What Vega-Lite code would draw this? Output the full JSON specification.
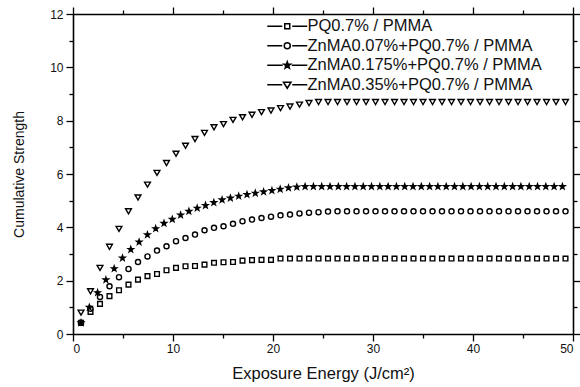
{
  "$schema": "https://vega.github.io/schema/vega-lite/v6.json",
  "width": 500,
  "height": 320,
  "autosize": {"type": "none"},
  "padding": {"left": 73, "top": 14, "right": 7, "bottom": 53},
  "background": "white",
  "config": {
    "view": {"stroke": null},
    "font": "Liberation Sans",
    "axis": {
      "domainColor": "black", "domainWidth": 1.6, "tickColor": "black", "tickWidth": 1.3,
      "labelColor": "#111", "labelFont": "Liberation Sans", "labelFontSize": 12,
      "titleColor": "#111", "titleFont": "Liberation Sans", "titleFontWeight": "normal",
      "grid": false
    },
    "legend": {
      "labelFont": "Liberation Sans", "labelFontSize": 16.5, "labelColor": "#111", "labelLimit": 400
    }
  },
  "data": {"values": [
    {"sample":"PQ0.7% / PMMA","energy":0.8,"strength":0.42},
    {"sample":"PQ0.7% / PMMA","energy":1.75,"strength":0.83},
    {"sample":"PQ0.7% / PMMA","energy":2.7,"strength":1.13},
    {"sample":"PQ0.7% / PMMA","energy":3.65,"strength":1.42},
    {"sample":"PQ0.7% / PMMA","energy":4.6,"strength":1.64},
    {"sample":"PQ0.7% / PMMA","energy":5.55,"strength":1.85},
    {"sample":"PQ0.7% / PMMA","energy":6.5,"strength":2.04},
    {"sample":"PQ0.7% / PMMA","energy":7.45,"strength":2.17},
    {"sample":"PQ0.7% / PMMA","energy":8.4,"strength":2.25},
    {"sample":"PQ0.7% / PMMA","energy":9.35,"strength":2.39},
    {"sample":"PQ0.7% / PMMA","energy":10.3,"strength":2.48},
    {"sample":"PQ0.7% / PMMA","energy":11.25,"strength":2.54},
    {"sample":"PQ0.7% / PMMA","energy":12.2,"strength":2.55},
    {"sample":"PQ0.7% / PMMA","energy":13.15,"strength":2.6},
    {"sample":"PQ0.7% / PMMA","energy":14.1,"strength":2.67},
    {"sample":"PQ0.7% / PMMA","energy":15.05,"strength":2.69},
    {"sample":"PQ0.7% / PMMA","energy":16.0,"strength":2.7},
    {"sample":"PQ0.7% / PMMA","energy":16.95,"strength":2.75},
    {"sample":"PQ0.7% / PMMA","energy":17.9,"strength":2.77},
    {"sample":"PQ0.7% / PMMA","energy":18.85,"strength":2.78},
    {"sample":"PQ0.7% / PMMA","energy":19.8,"strength":2.78},
    {"sample":"PQ0.7% / PMMA","energy":20.75,"strength":2.83},
    {"sample":"PQ0.7% / PMMA","energy":21.7,"strength":2.83},
    {"sample":"PQ0.7% / PMMA","energy":22.65,"strength":2.83},
    {"sample":"PQ0.7% / PMMA","energy":23.6,"strength":2.83},
    {"sample":"PQ0.7% / PMMA","energy":24.55,"strength":2.83},
    {"sample":"PQ0.7% / PMMA","energy":25.5,"strength":2.83},
    {"sample":"PQ0.7% / PMMA","energy":26.45,"strength":2.83},
    {"sample":"PQ0.7% / PMMA","energy":27.4,"strength":2.83},
    {"sample":"PQ0.7% / PMMA","energy":28.35,"strength":2.83},
    {"sample":"PQ0.7% / PMMA","energy":29.3,"strength":2.83},
    {"sample":"PQ0.7% / PMMA","energy":30.25,"strength":2.83},
    {"sample":"PQ0.7% / PMMA","energy":31.2,"strength":2.83},
    {"sample":"PQ0.7% / PMMA","energy":32.15,"strength":2.83},
    {"sample":"PQ0.7% / PMMA","energy":33.1,"strength":2.83},
    {"sample":"PQ0.7% / PMMA","energy":34.05,"strength":2.83},
    {"sample":"PQ0.7% / PMMA","energy":35.0,"strength":2.83},
    {"sample":"PQ0.7% / PMMA","energy":35.95,"strength":2.83},
    {"sample":"PQ0.7% / PMMA","energy":36.9,"strength":2.83},
    {"sample":"PQ0.7% / PMMA","energy":37.85,"strength":2.83},
    {"sample":"PQ0.7% / PMMA","energy":38.8,"strength":2.83},
    {"sample":"PQ0.7% / PMMA","energy":39.75,"strength":2.83},
    {"sample":"PQ0.7% / PMMA","energy":40.7,"strength":2.83},
    {"sample":"PQ0.7% / PMMA","energy":41.65,"strength":2.83},
    {"sample":"PQ0.7% / PMMA","energy":42.6,"strength":2.83},
    {"sample":"PQ0.7% / PMMA","energy":43.55,"strength":2.83},
    {"sample":"PQ0.7% / PMMA","energy":44.5,"strength":2.83},
    {"sample":"PQ0.7% / PMMA","energy":45.45,"strength":2.83},
    {"sample":"PQ0.7% / PMMA","energy":46.4,"strength":2.83},
    {"sample":"PQ0.7% / PMMA","energy":47.35,"strength":2.83},
    {"sample":"PQ0.7% / PMMA","energy":48.3,"strength":2.83},
    {"sample":"PQ0.7% / PMMA","energy":49.25,"strength":2.83},

    {"sample":"ZnMA0.07%+PQ0.7% / PMMA","energy":0.8,"strength":0.42},
    {"sample":"ZnMA0.07%+PQ0.7% / PMMA","energy":1.75,"strength":0.95},
    {"sample":"ZnMA0.07%+PQ0.7% / PMMA","energy":2.7,"strength":1.39},
    {"sample":"ZnMA0.07%+PQ0.7% / PMMA","energy":3.65,"strength":1.79},
    {"sample":"ZnMA0.07%+PQ0.7% / PMMA","energy":4.6,"strength":2.13},
    {"sample":"ZnMA0.07%+PQ0.7% / PMMA","energy":5.55,"strength":2.44},
    {"sample":"ZnMA0.07%+PQ0.7% / PMMA","energy":6.5,"strength":2.7},
    {"sample":"ZnMA0.07%+PQ0.7% / PMMA","energy":7.45,"strength":2.91},
    {"sample":"ZnMA0.07%+PQ0.7% / PMMA","energy":8.4,"strength":3.13},
    {"sample":"ZnMA0.07%+PQ0.7% / PMMA","energy":9.35,"strength":3.29},
    {"sample":"ZnMA0.07%+PQ0.7% / PMMA","energy":10.3,"strength":3.48},
    {"sample":"ZnMA0.07%+PQ0.7% / PMMA","energy":11.25,"strength":3.6},
    {"sample":"ZnMA0.07%+PQ0.7% / PMMA","energy":12.2,"strength":3.73},
    {"sample":"ZnMA0.07%+PQ0.7% / PMMA","energy":13.15,"strength":3.89},
    {"sample":"ZnMA0.07%+PQ0.7% / PMMA","energy":14.1,"strength":3.98},
    {"sample":"ZnMA0.07%+PQ0.7% / PMMA","energy":15.05,"strength":4.04},
    {"sample":"ZnMA0.07%+PQ0.7% / PMMA","energy":16.0,"strength":4.13},
    {"sample":"ZnMA0.07%+PQ0.7% / PMMA","energy":16.95,"strength":4.23},
    {"sample":"ZnMA0.07%+PQ0.7% / PMMA","energy":17.9,"strength":4.29},
    {"sample":"ZnMA0.07%+PQ0.7% / PMMA","energy":18.85,"strength":4.35},
    {"sample":"ZnMA0.07%+PQ0.7% / PMMA","energy":19.8,"strength":4.4},
    {"sample":"ZnMA0.07%+PQ0.7% / PMMA","energy":20.75,"strength":4.45},
    {"sample":"ZnMA0.07%+PQ0.7% / PMMA","energy":21.7,"strength":4.48},
    {"sample":"ZnMA0.07%+PQ0.7% / PMMA","energy":22.65,"strength":4.52},
    {"sample":"ZnMA0.07%+PQ0.7% / PMMA","energy":23.6,"strength":4.55},
    {"sample":"ZnMA0.07%+PQ0.7% / PMMA","energy":24.55,"strength":4.57},
    {"sample":"ZnMA0.07%+PQ0.7% / PMMA","energy":25.5,"strength":4.59},
    {"sample":"ZnMA0.07%+PQ0.7% / PMMA","energy":26.45,"strength":4.6},
    {"sample":"ZnMA0.07%+PQ0.7% / PMMA","energy":27.4,"strength":4.6},
    {"sample":"ZnMA0.07%+PQ0.7% / PMMA","energy":28.35,"strength":4.6},
    {"sample":"ZnMA0.07%+PQ0.7% / PMMA","energy":29.3,"strength":4.6},
    {"sample":"ZnMA0.07%+PQ0.7% / PMMA","energy":30.25,"strength":4.6},
    {"sample":"ZnMA0.07%+PQ0.7% / PMMA","energy":31.2,"strength":4.6},
    {"sample":"ZnMA0.07%+PQ0.7% / PMMA","energy":32.15,"strength":4.6},
    {"sample":"ZnMA0.07%+PQ0.7% / PMMA","energy":33.1,"strength":4.6},
    {"sample":"ZnMA0.07%+PQ0.7% / PMMA","energy":34.05,"strength":4.6},
    {"sample":"ZnMA0.07%+PQ0.7% / PMMA","energy":35.0,"strength":4.6},
    {"sample":"ZnMA0.07%+PQ0.7% / PMMA","energy":35.95,"strength":4.6},
    {"sample":"ZnMA0.07%+PQ0.7% / PMMA","energy":36.9,"strength":4.6},
    {"sample":"ZnMA0.07%+PQ0.7% / PMMA","energy":37.85,"strength":4.6},
    {"sample":"ZnMA0.07%+PQ0.7% / PMMA","energy":38.8,"strength":4.6},
    {"sample":"ZnMA0.07%+PQ0.7% / PMMA","energy":39.75,"strength":4.6},
    {"sample":"ZnMA0.07%+PQ0.7% / PMMA","energy":40.7,"strength":4.6},
    {"sample":"ZnMA0.07%+PQ0.7% / PMMA","energy":41.65,"strength":4.6},
    {"sample":"ZnMA0.07%+PQ0.7% / PMMA","energy":42.6,"strength":4.6},
    {"sample":"ZnMA0.07%+PQ0.7% / PMMA","energy":43.55,"strength":4.6},
    {"sample":"ZnMA0.07%+PQ0.7% / PMMA","energy":44.5,"strength":4.6},
    {"sample":"ZnMA0.07%+PQ0.7% / PMMA","energy":45.45,"strength":4.6},
    {"sample":"ZnMA0.07%+PQ0.7% / PMMA","energy":46.4,"strength":4.6},
    {"sample":"ZnMA0.07%+PQ0.7% / PMMA","energy":47.35,"strength":4.6},
    {"sample":"ZnMA0.07%+PQ0.7% / PMMA","energy":48.3,"strength":4.6},
    {"sample":"ZnMA0.07%+PQ0.7% / PMMA","energy":49.25,"strength":4.6},

    {"sample":"ZnMA0.175%+PQ0.7% / PMMA","energy":0.8,"strength":0.42},
    {"sample":"ZnMA0.175%+PQ0.7% / PMMA","energy":1.63,"strength":1.0},
    {"sample":"ZnMA0.175%+PQ0.7% / PMMA","energy":2.46,"strength":1.55},
    {"sample":"ZnMA0.175%+PQ0.7% / PMMA","energy":3.29,"strength":2.03},
    {"sample":"ZnMA0.175%+PQ0.7% / PMMA","energy":4.12,"strength":2.45},
    {"sample":"ZnMA0.175%+PQ0.7% / PMMA","energy":4.95,"strength":2.85},
    {"sample":"ZnMA0.175%+PQ0.7% / PMMA","energy":5.78,"strength":3.17},
    {"sample":"ZnMA0.175%+PQ0.7% / PMMA","energy":6.61,"strength":3.45},
    {"sample":"ZnMA0.175%+PQ0.7% / PMMA","energy":7.44,"strength":3.72},
    {"sample":"ZnMA0.175%+PQ0.7% / PMMA","energy":8.27,"strength":3.95},
    {"sample":"ZnMA0.175%+PQ0.7% / PMMA","energy":9.1,"strength":4.15},
    {"sample":"ZnMA0.175%+PQ0.7% / PMMA","energy":9.93,"strength":4.3},
    {"sample":"ZnMA0.175%+PQ0.7% / PMMA","energy":10.76,"strength":4.46},
    {"sample":"ZnMA0.175%+PQ0.7% / PMMA","energy":11.59,"strength":4.6},
    {"sample":"ZnMA0.175%+PQ0.7% / PMMA","energy":12.42,"strength":4.72},
    {"sample":"ZnMA0.175%+PQ0.7% / PMMA","energy":13.25,"strength":4.82},
    {"sample":"ZnMA0.175%+PQ0.7% / PMMA","energy":14.08,"strength":4.93},
    {"sample":"ZnMA0.175%+PQ0.7% / PMMA","energy":14.91,"strength":5.03},
    {"sample":"ZnMA0.175%+PQ0.7% / PMMA","energy":15.74,"strength":5.1},
    {"sample":"ZnMA0.175%+PQ0.7% / PMMA","energy":16.57,"strength":5.17},
    {"sample":"ZnMA0.175%+PQ0.7% / PMMA","energy":17.4,"strength":5.23},
    {"sample":"ZnMA0.175%+PQ0.7% / PMMA","energy":18.23,"strength":5.28},
    {"sample":"ZnMA0.175%+PQ0.7% / PMMA","energy":19.06,"strength":5.33},
    {"sample":"ZnMA0.175%+PQ0.7% / PMMA","energy":19.89,"strength":5.38},
    {"sample":"ZnMA0.175%+PQ0.7% / PMMA","energy":20.72,"strength":5.43},
    {"sample":"ZnMA0.175%+PQ0.7% / PMMA","energy":21.55,"strength":5.48},
    {"sample":"ZnMA0.175%+PQ0.7% / PMMA","energy":22.38,"strength":5.51},
    {"sample":"ZnMA0.175%+PQ0.7% / PMMA","energy":23.21,"strength":5.53},
    {"sample":"ZnMA0.175%+PQ0.7% / PMMA","energy":24.04,"strength":5.53},
    {"sample":"ZnMA0.175%+PQ0.7% / PMMA","energy":24.87,"strength":5.53},
    {"sample":"ZnMA0.175%+PQ0.7% / PMMA","energy":25.7,"strength":5.53},
    {"sample":"ZnMA0.175%+PQ0.7% / PMMA","energy":26.53,"strength":5.53},
    {"sample":"ZnMA0.175%+PQ0.7% / PMMA","energy":27.36,"strength":5.53},
    {"sample":"ZnMA0.175%+PQ0.7% / PMMA","energy":28.19,"strength":5.53},
    {"sample":"ZnMA0.175%+PQ0.7% / PMMA","energy":29.02,"strength":5.53},
    {"sample":"ZnMA0.175%+PQ0.7% / PMMA","energy":29.85,"strength":5.53},
    {"sample":"ZnMA0.175%+PQ0.7% / PMMA","energy":30.68,"strength":5.53},
    {"sample":"ZnMA0.175%+PQ0.7% / PMMA","energy":31.51,"strength":5.53},
    {"sample":"ZnMA0.175%+PQ0.7% / PMMA","energy":32.34,"strength":5.53},
    {"sample":"ZnMA0.175%+PQ0.7% / PMMA","energy":33.17,"strength":5.53},
    {"sample":"ZnMA0.175%+PQ0.7% / PMMA","energy":34.0,"strength":5.53},
    {"sample":"ZnMA0.175%+PQ0.7% / PMMA","energy":34.83,"strength":5.53},
    {"sample":"ZnMA0.175%+PQ0.7% / PMMA","energy":35.66,"strength":5.53},
    {"sample":"ZnMA0.175%+PQ0.7% / PMMA","energy":36.49,"strength":5.53},
    {"sample":"ZnMA0.175%+PQ0.7% / PMMA","energy":37.32,"strength":5.53},
    {"sample":"ZnMA0.175%+PQ0.7% / PMMA","energy":38.15,"strength":5.53},
    {"sample":"ZnMA0.175%+PQ0.7% / PMMA","energy":38.98,"strength":5.53},
    {"sample":"ZnMA0.175%+PQ0.7% / PMMA","energy":39.81,"strength":5.53},
    {"sample":"ZnMA0.175%+PQ0.7% / PMMA","energy":40.64,"strength":5.53},
    {"sample":"ZnMA0.175%+PQ0.7% / PMMA","energy":41.47,"strength":5.53},
    {"sample":"ZnMA0.175%+PQ0.7% / PMMA","energy":42.3,"strength":5.53},
    {"sample":"ZnMA0.175%+PQ0.7% / PMMA","energy":43.13,"strength":5.53},
    {"sample":"ZnMA0.175%+PQ0.7% / PMMA","energy":43.96,"strength":5.53},
    {"sample":"ZnMA0.175%+PQ0.7% / PMMA","energy":44.79,"strength":5.53},
    {"sample":"ZnMA0.175%+PQ0.7% / PMMA","energy":45.62,"strength":5.53},
    {"sample":"ZnMA0.175%+PQ0.7% / PMMA","energy":46.45,"strength":5.53},
    {"sample":"ZnMA0.175%+PQ0.7% / PMMA","energy":47.28,"strength":5.53},
    {"sample":"ZnMA0.175%+PQ0.7% / PMMA","energy":48.11,"strength":5.53},
    {"sample":"ZnMA0.175%+PQ0.7% / PMMA","energy":48.94,"strength":5.53},

    {"sample":"ZnMA0.35%+PQ0.7% / PMMA","energy":0.8,"strength":0.8},
    {"sample":"ZnMA0.35%+PQ0.7% / PMMA","energy":1.75,"strength":1.6},
    {"sample":"ZnMA0.35%+PQ0.7% / PMMA","energy":2.7,"strength":2.48},
    {"sample":"ZnMA0.35%+PQ0.7% / PMMA","energy":3.65,"strength":3.27},
    {"sample":"ZnMA0.35%+PQ0.7% / PMMA","energy":4.6,"strength":3.94},
    {"sample":"ZnMA0.35%+PQ0.7% / PMMA","energy":5.55,"strength":4.6},
    {"sample":"ZnMA0.35%+PQ0.7% / PMMA","energy":6.5,"strength":5.12},
    {"sample":"ZnMA0.35%+PQ0.7% / PMMA","energy":7.45,"strength":5.6},
    {"sample":"ZnMA0.35%+PQ0.7% / PMMA","energy":8.4,"strength":6.04},
    {"sample":"ZnMA0.35%+PQ0.7% / PMMA","energy":9.35,"strength":6.41},
    {"sample":"ZnMA0.35%+PQ0.7% / PMMA","energy":10.3,"strength":6.76},
    {"sample":"ZnMA0.35%+PQ0.7% / PMMA","energy":11.25,"strength":7.06},
    {"sample":"ZnMA0.35%+PQ0.7% / PMMA","energy":12.2,"strength":7.31},
    {"sample":"ZnMA0.35%+PQ0.7% / PMMA","energy":13.15,"strength":7.54},
    {"sample":"ZnMA0.35%+PQ0.7% / PMMA","energy":14.1,"strength":7.75},
    {"sample":"ZnMA0.35%+PQ0.7% / PMMA","energy":15.05,"strength":7.87},
    {"sample":"ZnMA0.35%+PQ0.7% / PMMA","energy":16.0,"strength":8.03},
    {"sample":"ZnMA0.35%+PQ0.7% / PMMA","energy":16.95,"strength":8.13},
    {"sample":"ZnMA0.35%+PQ0.7% / PMMA","energy":17.9,"strength":8.22},
    {"sample":"ZnMA0.35%+PQ0.7% / PMMA","energy":18.85,"strength":8.32},
    {"sample":"ZnMA0.35%+PQ0.7% / PMMA","energy":19.8,"strength":8.38},
    {"sample":"ZnMA0.35%+PQ0.7% / PMMA","energy":20.75,"strength":8.47},
    {"sample":"ZnMA0.35%+PQ0.7% / PMMA","energy":21.7,"strength":8.53},
    {"sample":"ZnMA0.35%+PQ0.7% / PMMA","energy":22.65,"strength":8.6},
    {"sample":"ZnMA0.35%+PQ0.7% / PMMA","energy":23.6,"strength":8.66},
    {"sample":"ZnMA0.35%+PQ0.7% / PMMA","energy":24.55,"strength":8.7},
    {"sample":"ZnMA0.35%+PQ0.7% / PMMA","energy":25.5,"strength":8.7},
    {"sample":"ZnMA0.35%+PQ0.7% / PMMA","energy":26.45,"strength":8.7},
    {"sample":"ZnMA0.35%+PQ0.7% / PMMA","energy":27.4,"strength":8.7},
    {"sample":"ZnMA0.35%+PQ0.7% / PMMA","energy":28.35,"strength":8.7},
    {"sample":"ZnMA0.35%+PQ0.7% / PMMA","energy":29.3,"strength":8.7},
    {"sample":"ZnMA0.35%+PQ0.7% / PMMA","energy":30.25,"strength":8.7},
    {"sample":"ZnMA0.35%+PQ0.7% / PMMA","energy":31.2,"strength":8.7},
    {"sample":"ZnMA0.35%+PQ0.7% / PMMA","energy":32.15,"strength":8.7},
    {"sample":"ZnMA0.35%+PQ0.7% / PMMA","energy":33.1,"strength":8.7},
    {"sample":"ZnMA0.35%+PQ0.7% / PMMA","energy":34.05,"strength":8.7},
    {"sample":"ZnMA0.35%+PQ0.7% / PMMA","energy":35.0,"strength":8.7},
    {"sample":"ZnMA0.35%+PQ0.7% / PMMA","energy":35.95,"strength":8.7},
    {"sample":"ZnMA0.35%+PQ0.7% / PMMA","energy":36.9,"strength":8.7},
    {"sample":"ZnMA0.35%+PQ0.7% / PMMA","energy":37.85,"strength":8.7},
    {"sample":"ZnMA0.35%+PQ0.7% / PMMA","energy":38.8,"strength":8.7},
    {"sample":"ZnMA0.35%+PQ0.7% / PMMA","energy":39.75,"strength":8.7},
    {"sample":"ZnMA0.35%+PQ0.7% / PMMA","energy":40.7,"strength":8.7},
    {"sample":"ZnMA0.35%+PQ0.7% / PMMA","energy":41.65,"strength":8.7},
    {"sample":"ZnMA0.35%+PQ0.7% / PMMA","energy":42.6,"strength":8.7},
    {"sample":"ZnMA0.35%+PQ0.7% / PMMA","energy":43.55,"strength":8.7},
    {"sample":"ZnMA0.35%+PQ0.7% / PMMA","energy":44.5,"strength":8.7},
    {"sample":"ZnMA0.35%+PQ0.7% / PMMA","energy":45.45,"strength":8.7},
    {"sample":"ZnMA0.35%+PQ0.7% / PMMA","energy":46.4,"strength":8.7},
    {"sample":"ZnMA0.35%+PQ0.7% / PMMA","energy":47.35,"strength":8.7},
    {"sample":"ZnMA0.35%+PQ0.7% / PMMA","energy":48.3,"strength":8.7},
    {"sample":"ZnMA0.35%+PQ0.7% / PMMA","energy":49.25,"strength":8.7}
  ]},
  "layer": [
    {
      "mark": {"type": "point", "opacity": 0, "clip": false},
      "encoding": {
        "x": {"field": "energy", "type": "quantitative", "scale": {"domain": [0, 50], "nice": false, "zero": false},
          "axis": {"orient": "top", "values": [0,5,10,15,20,25,30,35,40,45,50], "labels": false, "title": null,
            "tickSize": {"condition": {"test": "datum.value % 10 !== 0", "value": 4}, "value": 7}}},
        "y": {"field": "strength", "type": "quantitative", "scale": {"domain": [0, 12], "nice": false, "zero": false},
          "axis": {"orient": "right", "values": [0,1,2,3,4,5,6,7,8,9,10,11,12], "labels": false, "title": null,
            "tickSize": {"condition": {"test": "datum.value % 2 !== 0", "value": 4}, "value": 7}}}
      }
    },
    {
      "transform": [{"filter": "datum.strength < 0"}],
      "mark": {"type": "point", "color": "black", "strokeWidth": 1.5, "opacity": 1, "size": 100, "filled": false},
      "encoding": {
        "x": {"field": "energy", "type": "quantitative", "axis": null},
        "y": {"field": "strength", "type": "quantitative", "axis": null},
        "shape": {"field": "sample", "type": "nominal",
          "scale": {"domain": ["PQ0.7% / PMMA", "ZnMA0.07%+PQ0.7% / PMMA", "ZnMA0.175%+PQ0.7% / PMMA", "ZnMA0.35%+PQ0.7% / PMMA"],
            "range": [
              "M-4,0L-1,0M1,0L4,0M-0.5,-0.5L0.5,-0.5L0.5,0.5L-0.5,0.5Z",
              "M-4,0L-1,0M1,0L4,0M0.6,0A0.6,0.6 0 1,1 -0.6,0A0.6,0.6 0 1,1 0.6,0Z",
              "M-4,0L-0.9,0M0.9,0L4,0M0,-0.7L0.16,-0.23L0.67,-0.22L0.27,0.09L0.41,0.57L0,0.28L-0.41,0.57L-0.27,0.09L-0.67,-0.22L-0.16,-0.23ZM0,-0.3L0.25,0.1L-0.25,0.1Z",
              "M-4,0L-1,0M1,0L4,0M-0.75,-0.5L0.75,-0.5L0,0.7Z"]},
          "legend": {"title": null, "orient": "none", "legendX": 206, "legendY": 4,
            "symbolSize": 100, "symbolStrokeWidth": 1.5,
            "labelOffset": 12, "rowPadding": 2.5, "padding": 0}}
      }
    },
    {
      "mark": {"type": "point", "stroke": "black", "strokeWidth": 1.4, "opacity": 1, "clip": false},
      "encoding": {
        "x": {"field": "energy", "type": "quantitative",
          "axis": {"orient": "bottom", "values": [0,5,10,15,20,25,30,35,40,45,50],
            "labelExpr": "datum.value % 10 === 0 ? datum.label : ''",
            "tickSize": {"condition": {"test": "datum.value % 10 !== 0", "value": 4}, "value": 7},
            "labelPadding": 2, "title": "Exposure Energy (J/cm²)", "titleFontSize": 16.5, "titlePadding": 11}},
        "y": {"field": "strength", "type": "quantitative",
          "axis": {"orient": "left", "values": [0,1,2,3,4,5,6,7,8,9,10,11,12],
            "labelExpr": "datum.value % 2 === 0 ? datum.label : ''",
            "tickSize": {"condition": {"test": "datum.value % 2 !== 0", "value": 4}, "value": 7},
            "labelPadding": 3, "title": "Cumulative Strength", "titleFontSize": 14, "titlePadding": 23}},
        "shape": {"field": "sample", "type": "nominal",
          "scale": {"domain": ["PQ0.7% / PMMA", "ZnMA0.07%+PQ0.7% / PMMA", "ZnMA0.175%+PQ0.7% / PMMA", "ZnMA0.35%+PQ0.7% / PMMA"],
            "range": ["square", "circle", "M0,-1L0.235,-0.324L0.951,-0.309L0.38,0.124L0.588,0.809L0,0.4L-0.588,0.809L-0.38,0.124L-0.951,-0.309L-0.235,-0.324Z", "triangle-down"]},
          "legend": null},
        "fill": {"field": "sample", "type": "nominal",
          "scale": {"domain": ["PQ0.7% / PMMA", "ZnMA0.07%+PQ0.7% / PMMA", "ZnMA0.175%+PQ0.7% / PMMA", "ZnMA0.35%+PQ0.7% / PMMA"],
            "range": ["white", "white", "black", "white"]}, "legend": null},
        "size": {"field": "sample", "type": "nominal",
          "scale": {"domain": ["PQ0.7% / PMMA", "ZnMA0.07%+PQ0.7% / PMMA", "ZnMA0.175%+PQ0.7% / PMMA", "ZnMA0.35%+PQ0.7% / PMMA"],
            "range": [22, 34, 85, 70]}, "legend": null}
      }
    }
  ],
  "resolve": {
    "axis": {"x": "independent", "y": "independent"},
    "scale": {"shape": "independent", "fill": "independent"},
    "legend": {"shape": "independent", "fill": "independent"}
  }
}
